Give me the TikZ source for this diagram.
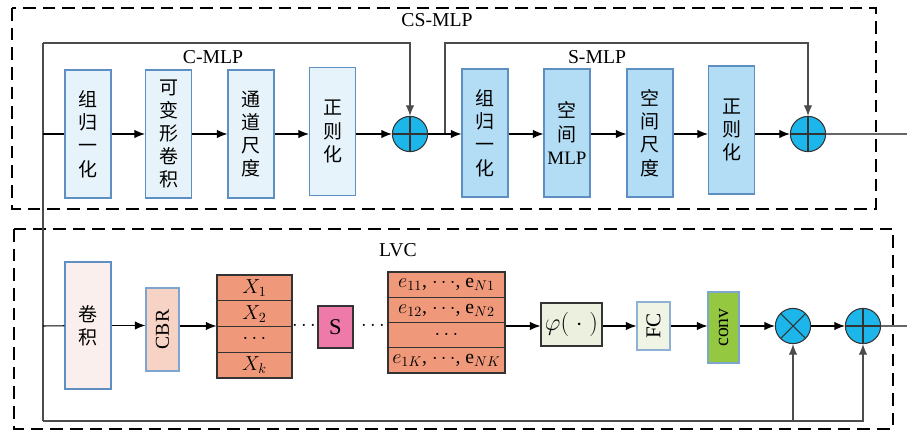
\documentclass[tikz,border=0pt]{standalone}
\usepackage{fontspec}
\setmainfont{Liberation Serif}
\newfontfamily\cjk{Noto Sans CJK SC}
\newfontfamily\latin{Liberation Serif}
\usetikzlibrary{arrows.meta}
\definecolor{bluebox}{HTML}{5E8FC3}
\definecolor{paleblue}{HTML}{E7F3FA}
\definecolor{midblue}{HTML}{B3DDF4}
\definecolor{sumcyan}{HTML}{1DB6EA}
\definecolor{palepink}{HTML}{FBEFEE}
\definecolor{peach}{HTML}{F7D3C6}
\definecolor{salmon}{HTML}{F0997A}
\definecolor{rose}{HTML}{EE7AAA}
\definecolor{palegreen}{HTML}{EBF1DE}
\definecolor{lime}{HTML}{94C841}
\begin{document}
\begin{tikzpicture}[x=0.025cm,y=-0.025cm,line width=0.75pt,
    >={Latex[length=7.5pt,width=6pt]},
    every node/.style={font=\fontsize{14}{16}\selectfont},
    group/.style={dash pattern=on 9pt off 5pt,line width=2pt},
    block/.style={draw=bluebox,line width=0.8pt,minimum width=1.15cm,minimum height=3.2cm,
        align=center,inner sep=1pt,font=\cjk\fontsize{13.5}{16.5}\selectfont},
    rowbox/.style={draw=black!80,fill=salmon,line width=0.8pt,inner sep=0pt,
        minimum height=0.644cm,font=\fontsize{14}{14}\selectfont},
    flat/.style={draw=black!80,line width=0.8pt,inner sep=1pt},
    upright/.style={rotate=90,inner sep=1pt,line width=0.8pt},
    sum/.style={circle,draw=black!80,fill=sumcyan,minimum size=0.88cm,inner sep=0pt,
        path picture={\draw[black!80] (path picture bounding box.north) -- (path picture bounding box.south)
            (path picture bounding box.west) -- (path picture bounding box.east);}},
    mul/.style={circle,draw=black!80,fill=sumcyan,minimum size=0.88cm,inner sep=0pt,
        path picture={\draw[black!80] (path picture bounding box.north west) -- (path picture bounding box.south east)
            (path picture bounding box.north east) -- (path picture bounding box.south west);}}]
    \useasboundingbox (0,0) rectangle (907,432);
    %% groups
    \draw[group] (12,8) rectangle (876,209);
    \draw[group] (14,229) rectangle (893,429);
    \node (lcs) at (437,20) {CS-MLP};
    \node (lc) at (213,57) {C-MLP};
    \node (ls) at (597,57) {S-MLP};
    \node (lv) at (398,250) {LVC};
    %% C-MLP
    \node[block,fill=paleblue] (n1) at (88,134) {组\\归\\一\\化};
    \node[block,fill=paleblue] (n2) at (168.5,134) {可\\变\\形\\卷\\积};
    \node[block,fill=paleblue] (n3) at (251,134) {通\\道\\尺\\度};
    \node[block,fill=paleblue] (n4) at (332.5,131.5) {正\\则\\化};
    \node[sum] (s1) at (410,134) {};
    %% S-MLP
    \node[block,fill=midblue] (n5) at (485,133) {组\\归\\一\\化};
    \node[block,fill=midblue] (n6) at (567,133) {空\\间\\{\latin MLP}};
    \node[block,fill=midblue] (n7) at (650,133) {空\\间\\尺\\度};
    \node[block,fill=midblue] (n8) at (731.5,130) {正\\则\\化};
    \node[sum] (s2) at (808,134) {};
    %% LVC
    \node[block,fill=palepink,minimum height=3.175cm] (c1) at (88,325.5) {卷\\积};
    \node[upright,draw=bluebox!80,fill=peach,minimum width=2.075cm,minimum height=0.825cm] (c2) at (162.5,329.5) {CBR};
    \foreach \t [count=\i] in {$X_1$,$X_2$,$\cdots$,$X_k$}
        \node[rowbox,minimum width=1.875cm] (x\i) at (254.5,262.1+25.75*\i) {\t};
    \node (d1) at (304,326) {$\cdots$};
    \node[flat,fill=rose,minimum width=0.875cm,minimum height=1.05cm,font=\fontsize{16}{16}\selectfont] (sb) at (335.5,327) {S};
    \node (d2) at (373,326) {$\cdots$};
    \foreach \t [count=\i] in {{$e_{11}$, $\cdots$, e$_{N1}$},{$e_{12}$, $\cdots$, e$_{N2}$},{$\cdots$},{$e_{1K}$, $\cdots$, e$_{NK}$}}
        \node[rowbox,minimum width=2.925cm,minimum height=0.631cm] (e\i) at (446.5,259.4+25.25*\i) {\t};
    \node[flat,fill=palegreen,minimum width=1.525cm,minimum height=1.075cm,font=\fontsize{16}{16}\selectfont] (phi) at (571.5,324.5) {$\varphi(\;\cdot\;)$};
    \node[upright,draw=bluebox!70,fill=palegreen!80,minimum width=1.2cm,minimum height=0.825cm,font=\fontsize{15}{15}\selectfont] (fc) at (653.5,326) {FC};
    \node[upright,draw=bluebox!80,fill=lime,minimum width=1.775cm,minimum height=0.775cm] (cv) at (723.5,327.5) {conv};
    \node[mul] (m1) at (793,326) {};
    \node[sum] (s3) at (863,326) {};
    %% skip paths
    \coordinate (tl) at (43,43);
    \coordinate (bl) at (43,421);
    \coordinate (in1) at (43,134);
    \coordinate (in2) at (43,326);
    \coordinate (br) at (445,134);
    \coordinate (tr) at (445,43);
    \coordinate (out1) at (907,134);
    \coordinate (out2) at (907,326);
    \draw[black!70] (bl) -- (tl);
    \draw[black!70,->] (tl) -| (s1.north);
    \draw[black!70,->] (br) -- (tr) -| (s2.north);
    \draw[black!70,->] (bl) -| (m1.south);
    \draw[black!70,->] (bl) -| (s3.south);
    %% main flow
    \draw (in1) -- (n1);
    \foreach \a/\b in {n1/n2,n2/n3,n3/n4,n5/n6,n6/n7,n7/n8}
        \draw[->] (\a.east |- in1) -- (\b.west |- in1);
    \draw[->] (n4.east |- in1) -- (s1);
    \draw[->] (s1) -- (n5.west |- in1);
    \draw[->] (n8.east |- in1) -- (s2);
    \draw[black!60] (s2) -- (out1);
    \draw (in2) -- (c1);
    \draw[->] (c1) -- (c2.north |- c1);
    \draw[->] (c2.south |- in2) -- (x1.west |- in2);
    \draw[->] (e1.east |- in2) -- (phi.west |- in2);
    \draw[->] (phi.east |- in2) -- (fc.north |- in2);
    \draw[->] (fc.south |- in2) -- (cv.north |- in2);
    \draw[->] (cv.south |- in2) -- (m1);
    \draw[->] (m1) -- (s3);
    \draw[black!60] (s3) -- (out2);
\end{tikzpicture}
\end{document}
